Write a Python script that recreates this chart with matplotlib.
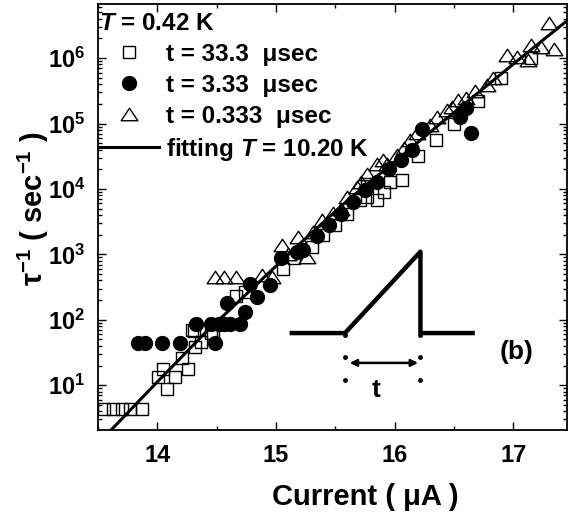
import numpy as np
import matplotlib
matplotlib.use("Agg")
import matplotlib.pyplot as plt
from matplotlib.path import Path
from matplotlib.ticker import MultipleLocator, LogLocator, NullFormatter

plt.rcParams["font.family"] = "Liberation Sans"
plt.rcParams["font.weight"] = "bold"
plt.rcParams["mathtext.fontset"] = "custom"
plt.rcParams["mathtext.default"] = "bf"
plt.rcParams["mathtext.rm"] = "Liberation Sans:bold"
plt.rcParams["mathtext.bf"] = "Liberation Sans:bold"
plt.rcParams["mathtext.it"] = "Liberation Sans:italic:bold"

# escape rate vs bias current, three ramp times
I_33 = [13.55, 13.63, 13.70, 13.77, 13.87, 14.01, 14.05, 14.08, 14.15, 14.26,
        14.21, 14.32, 14.37, 14.29, 14.45, 14.31, 14.47, 14.66, 14.74, 15.06,
        15.15, 15.30, 15.40, 15.50, 15.60, 15.71, 15.77, 15.77, 15.85, 15.91,
        15.96, 16.06, 16.20, 16.35, 16.50, 16.70, 16.90, 17.15]
rate_33 = [4.3, 4.3, 4.3, 4.3, 4.3, 13.2, 17.4, 8.9, 13.2, 17.4,
           26, 39, 46, 69, 62, 68, 63, 230, 270, 600,
           890, 1300, 2000, 2800, 4200, 6800, 7600, 12000, 6800, 9100,
           12900, 13500, 32000, 56000, 1.0e5, 2.2e5, 5.0e5, 1.0e6]

I_3 = [13.84, 13.90, 14.04, 14.19, 14.49, 14.33, 14.45, 14.52, 14.56, 14.61,
       14.70, 14.74, 14.59, 14.84, 14.78, 14.95, 15.04, 15.18, 15.23, 15.35,
       15.45, 15.55, 15.65, 15.75, 15.85, 15.95, 16.05, 16.15, 16.23, 16.55,
       16.60, 16.64]
rate_3 = [44, 44, 44, 44, 44, 87, 87, 87, 87, 87,
          87, 132, 178, 224, 355, 339, 870, 1100, 1150, 1900,
          2800, 4200, 6300, 9500, 13000, 20000, 28000, 40000, 83000, 1.26e5,
          1.7e5, 7.1e4]

I_03 = [14.49, 14.56, 14.66, 14.88, 14.97, 15.05, 15.10, 15.19, 15.26, 15.31,
        15.39, 15.48, 15.55, 15.60, 15.68, 15.72, 15.77, 15.85, 15.90, 15.94,
        16.02, 16.08, 16.13, 16.19, 16.30, 16.36, 16.44, 16.48, 16.53, 16.60,
        16.68, 16.78, 16.83, 16.95, 17.03, 17.12, 17.15, 17.23, 17.34, 17.30]
rate_03 = [450, 450, 450, 480, 450, 1380, 1000, 1860, 910, 2200,
           3300, 4300, 5000, 7600, 10700, 12600, 17000, 24500, 28000, 24500,
           33000, 42000, 56000, 71000, 95000, 1.26e5, 1.6e5, 1.78e5, 2.3e5, 2.5e5,
           3.2e5, 3.9e5, 4.9e5, 1.1e6, 1.05e6, 9.3e5, 1.6e6, 1.5e6, 1.4e6, 3.4e6]

# fitted curve, T = 10.20 K
I_fit = [13.58, 14.0, 14.4, 14.8, 15.2, 15.6, 16.0, 16.4, 16.8, 17.2, 17.45]
rate_fit = [1.8, 11.2, 62, 300, 1450, 6600, 26000, 1.05e5, 4.1e5, 1.6e6, 3.7e6]

tri = Path([(-1, -0.75), (1, -0.75), (0, 0.75), (-1, -0.75)],
           [Path.MOVETO, Path.LINETO, Path.LINETO, Path.CLOSEPOLY])

fig = plt.figure(figsize=(5.69, 5.14), dpi=100)
ax = fig.add_axes([0.172, 0.163, 0.824, 0.829])

sq, = ax.plot(I_33, rate_33, ls="none", marker="s", ms=8.6, mfc="none",
              mec="black", mew=1.0)
ci, = ax.plot(I_3, rate_3, ls="none", marker="o", ms=10, mfc="black",
              mec="black")
tr, = ax.plot(I_03, rate_03, ls="none", marker=tri, ms=12, mfc="none",
              mec="black", mew=1.0)
fl, = ax.plot(I_fit, rate_fit, color="black", lw=2.2, zorder=5)

ax.set_yscale("log")
ax.set_xlim(13.5, 17.45)
ax.set_ylim(2.05, 6.7e6)

ax.xaxis.set_major_locator(MultipleLocator(1))
ax.xaxis.set_minor_locator(MultipleLocator(0.5))
ax.set_yticks([1e1, 1e2, 1e3, 1e4, 1e5, 1e6])
ax.set_yticklabels([r"$10^{%d}$" % k for k in range(1, 7)])
ax.yaxis.set_minor_locator(LogLocator(base=10, subs=np.arange(2, 10), numticks=20))
ax.yaxis.set_minor_formatter(NullFormatter())
ax.tick_params(which="both", direction="in", top=True, right=True, width=1.0)
ax.tick_params(which="major", length=6, labelsize=17)
ax.tick_params(axis="x", which="major", pad=10)
ax.tick_params(axis="y", which="major", pad=9)
ax.tick_params(which="minor", length=3)
for s in ax.spines.values():
    s.set_linewidth(1.3)

ax.set_xlabel("Current ( \u03bcA )", fontsize=21, fontweight="bold")
ax.xaxis.set_label_coords(0.571, -0.125)
ax.set_ylabel("\u03c4$^{-1}$ ( sec$^{-1}$ )", fontsize=21, fontweight="bold")
ax.yaxis.set_label_coords(-0.10, 0.52)

leg = ax.legend([sq, ci, tr, fl],
                ["t = 33.3  \u03bcsec", "t = 3.33  \u03bcsec",
                 "t = 0.333  \u03bcsec", r"fitting $\mathit{T}$ = 10.20 K"],
                title=r"$\mathit{T}$ = 0.42 K", loc="upper left",
                bbox_to_anchor=(0.0, 0.985), frameon=False, borderpad=0.05,
                borderaxespad=0.0, handlelength=2.47, handletextpad=0.3,
                labelspacing=0.33, alignment="left",
                prop={"size": 17.5, "weight": "bold"},
                title_fontproperties={"size": 17.5, "weight": "bold"})

# ramp pulse sketch
k = dict(color="black", lw=3.2, transform=ax.transAxes, solid_capstyle="butt")
ax.plot([0.409, 0.527, 0.688, 0.688, 0.804], [0.228, 0.228, 0.419, 0.228, 0.228], **k)
for xd in (0.527, 0.688):
    ax.plot([xd] * 3, [0.223, 0.172, 0.117], ls="none", marker="o", ms=2.5,
            color="black", transform=ax.transAxes)
ax.annotate("", xy=(0.683, 0.158), xytext=(0.537, 0.158), xycoords="axes fraction",
            arrowprops=dict(arrowstyle="<|-|>", color="black", lw=1.8,
                            mutation_scale=10, shrinkA=0, shrinkB=0))
ax.text(0.594, 0.094, "t", transform=ax.transAxes, fontsize=19,
        fontweight="bold", ha="center", va="center")
ax.text(0.893, 0.184, "(b)", transform=ax.transAxes, fontsize=19,
        fontweight="bold", ha="center", va="center")

fig.savefig("out.png", dpi=100)
